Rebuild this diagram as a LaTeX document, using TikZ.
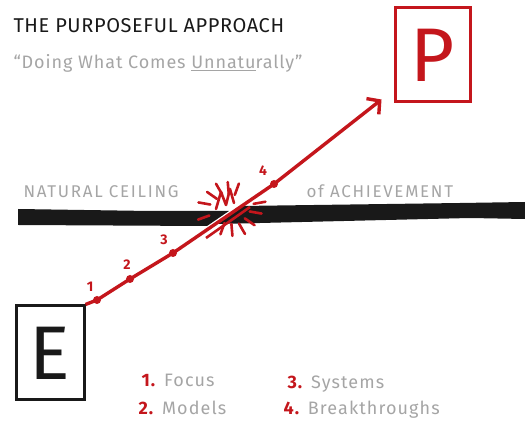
\documentclass[tikz,border=0pt]{standalone}
\usepackage{fontspec}
\setmainfont{Fira Sans}
\usetikzlibrary{arrows.meta,calc,positioning}
\definecolor{markred}{RGB}{196,22,28}
\definecolor{pencilgray}{RGB}{165,165,165}
\definecolor{inkblack}{RGB}{25,25,25}

\begin{document}
\begin{tikzpicture}[x=1pt,y=-1pt,
    letterbox/.style={rectangle, draw, line width=3pt, inner sep=0pt, font=\fontsize{76}{76}\selectfont},
    dotmark/.style={circle, fill=markred, inner sep=0pt, minimum size=8pt},
    numlabel/.style={font=\fontsize{14}{14}\selectfont\bfseries, text=markred},
    ray/.style={markred, line width=2.6pt, line cap=round},
    graytext/.style={anchor=west, text=pencilgray, font=\fontsize{17}{17}\selectfont\addfontfeature{LetterSpace=10}},
    legend/.style={graytext, font=\fontsize{18}{18}\selectfont\addfontfeature{LetterSpace=6}}
]
    \useasboundingbox (0,0) rectangle (525,427);

    % Title
    \node[anchor=west, font=\fontsize{20}{20}\selectfont\addfontfeature{LetterSpace=3}, text=inkblack] (title) at (10,26) {THE PURPOSEFUL APPROACH};
    \node[graytext, font=\fontsize{18}{18}\selectfont\addfontfeature{LetterSpace=5}] (subtitle) at (10,63) {“Doing What Comes \underline{Unnatu}rally”};

    % Boxes
    \node[letterbox, markred, minimum width=75pt, minimum height=94pt] (P) at (432.5,55) {P};
    \node[letterbox, inkblack, minimum width=68pt, minimum height=94pt] (E) at (50,353) {E};

    % Ceiling bar
    \fill[inkblack] (18,209) -- (150,211) -- (229,211) -- (207,226) -- (18,225) -- cycle;
    \fill[inkblack] (241,206) -- (460,203) -- (525,202) -- (525,219) -- (470,218) -- (218,224) -- cycle;
    \node[graytext] (ceiling) at (20,192) {NATURAL CEILING};
    \node[graytext] (achieve) at (303,191) {of ACHIEVEMENT};

    % Steps on the way
    \node[dotmark] (d1) at (97,300) {};
    \node[dotmark] (d2) at (130,279) {};
    \node[dotmark] (d3) at (173,253) {};
    \node[dotmark] (d4) at (274,184) {};
    \node[numlabel] (n1) at (90,287) {1};
    \node[numlabel] (n2) at (127,265) {2};
    \node[numlabel] (n3) at (164,240) {3};
    \node[numlabel] (n4) at (263,171) {4};
    \coordinate (tip) at ($(P.south west)+(-12,-4)$);
    \draw[markred, line width=3.4pt, line join=round, -{Straight Barb[length=9pt,width=20pt]}]
        (E.north east) -- (d1.center) -- (d2.center) -- (d3.center) -- (d4.center) -- (tip);
    \draw[markred, line width=2.6pt] (206,238) -- (250,207);

    % Breakthrough burst
    \coordinate (burst) at (230,208);
    \foreach \a/\r in {10/32,35/30,60/30,85/28,110/28,160/34,190/32,215/28,240/28,265/26,290/26,350/36} {
        \draw[ray] ($(burst)+(\a:\r-12)$) -- ($(burst)+(\a:\r)$);
    }
    \draw[ray, line join=round] (216,209) -- (221,192) -- (226,205) -- (230,189) -- (234,203);

    % Legend
    \node[legend] (l1) at (138,380) {\textcolor{markred}{\textbf{1.}} Focus};
    \node[legend] (l2) at (135,408) {\textcolor{markred}{\textbf{2.}} Models};
    \node[legend] (l3) at (284,384) {\textcolor{markred}{\textbf{3.}} Systems};
    \node[legend] (l4) at (280,410) {\textcolor{markred}{\textbf{4.}} Breakthroughs};
\end{tikzpicture}
\end{document}
